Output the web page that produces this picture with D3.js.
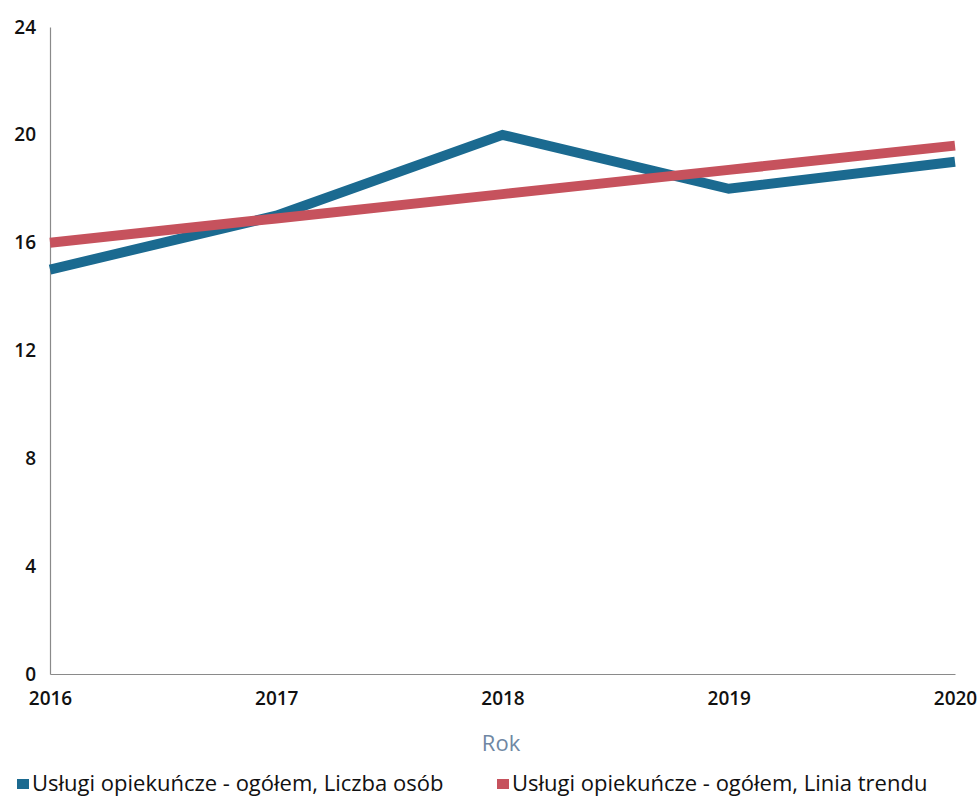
<!DOCTYPE html>
<html><head><meta charset="utf-8">
<script src="https://cdn.jsdelivr.net/npm/d3@7"></script>
<style>body{margin:0;background:#fff}svg{display:block}text{font-family:"Open Sans","Noto Sans",sans-serif}</style>
</head><body><svg id="c" width="979" height="804"></svg>
<script>
const years = [2016, 2017, 2018, 2019, 2020];
const liczbaOsob = [15, 17, 20, 18, 19];
const liniaTrendu = [16.0, 16.9, 17.8, 18.7, 19.6];
const yTicks = [0, 4, 8, 12, 16, 20, 24];
const seriesNames = ["Usługi opiekuńcze - ogółem, Liczba osób", "Usługi opiekuńcze - ogółem, Linia trendu"];
const colors = ["#1b6a90", "#c6525d"];

const svg = d3.select("#c");
const x = d3.scaleLinear().domain([2016, 2020]).range([50, 955]);
const y = d3.scaleLinear().domain([0, 24]).range([674, 27]);

const yAxis = svg.append("g").attr("transform", "translate(50,0)")
  .call(d3.axisLeft(y).tickValues(yTicks).tickSizeInner(0).tickSizeOuter(0).tickPadding(14).tickFormat(d3.format("d")));
yAxis.select(".domain").attr("stroke", "#8a8a8a").attr("stroke-width", 1.2);
yAxis.selectAll("text").attr("font-size", 19).attr("font-weight", 600).attr("fill", "#111");

const xAxis = svg.append("g").attr("transform", "translate(0,674)")
  .call(d3.axisBottom(x).tickValues(years).tickSizeInner(0).tickSizeOuter(0).tickPadding(18).tickFormat(d3.format("d")));
xAxis.select(".domain").attr("stroke", "#8a8a8a").attr("stroke-width", 1.2);
xAxis.selectAll("text").attr("font-size", 19).attr("font-weight", 600).attr("fill", "#111");

svg.append("text").attr("x", 501).attr("y", 751).attr("text-anchor", "middle")
  .attr("font-size", 22).attr("fill", "#6f87a3").text("Rok");

const line = d3.line().x((d, i) => x(years[i])).y(d => y(d));
[liczbaOsob, liniaTrendu].forEach((s, k) => {
  svg.append("path").datum(s).attr("d", line).attr("fill", "none")
    .attr("stroke", colors[k]).attr("stroke-width", 10).attr("stroke-linejoin", "miter");
});

const lx = [17, 497];
seriesNames.forEach((n, k) => {
  svg.append("rect").attr("x", lx[k]).attr("y", 779).attr("width", 12).attr("height", 10).attr("fill", colors[k]);
  svg.append("text").attr("x", lx[k] + 15).attr("y", 791).attr("font-size", 22).attr("fill", "#111").text(n);
});
</script></body></html>
